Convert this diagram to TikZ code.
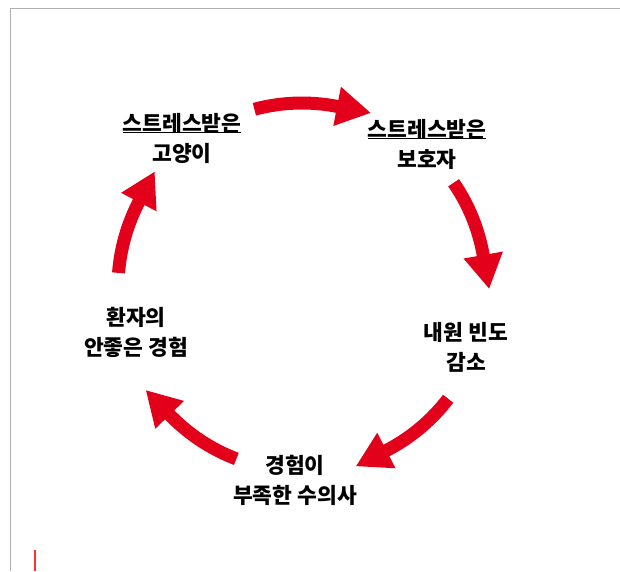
\documentclass[tikz,border=0pt]{standalone}
\usepackage{fontspec}
\setmainfont{Noto Sans CJK KR}
\usetikzlibrary{calc}
\definecolor{cred}{RGB}{226,0,26}
\definecolor{frame}{RGB}{175,175,175}
\newcommand{\ulkr}[1]{\setbox0\hbox{#1}\rlap{\raisebox{-2.2pt}{\rule{\wd0}{1.2pt}}}\box0}
\begin{document}
\begin{tikzpicture}[x=1pt,y=-1pt,
  lbl/.style={font=\fontsize{21.5}{30}\selectfont\bfseries, align=center, text=black, inner sep=0pt},
  shaft/.style={draw=cred, line width=13pt},
  head/.style={fill=cred}]
\useasboundingbox (0,0) rectangle (620,571);
\fill[white] (0,0) rectangle (620,571);
\draw[frame, line width=1pt] (10,571) -- (10,8.5) -- (620,8.5);
\draw[red!80!white, line width=1.3pt] (35,550) -- (35,571);
\coordinate (C) at (302,287);
\foreach \t/\b [count=\i] in {255/281, 325.5/350, 37.4/62.7, 110.9/136, 184.4/207.5}{
  \draw[shaft] ($(C)+(\t:184)$) arc[start angle=\t, end angle=\b+1, radius=184];
  \fill[head] ($(C)+(\b:164)$) -- ($(C)+(\b:204)$) -- ($(C)+(\b:184)+(\b+90:34)$) -- cycle;
}
\node[lbl] (n1) at (182,138) {\ulkr{스트레스받은}\\고양이};
\node[lbl] (n2) at (427,144) {\ulkr{스트레스받은}\\보호자};
\node[lbl] (n3) at (466,347) {내원 빈도\\감소};
\node[lbl] (n4) at (295,480) {경험이\\부족한 수의사};
\node[lbl] (n5) at (136,332) {환자의\\안좋은 경험};
\end{tikzpicture}
\end{document}
